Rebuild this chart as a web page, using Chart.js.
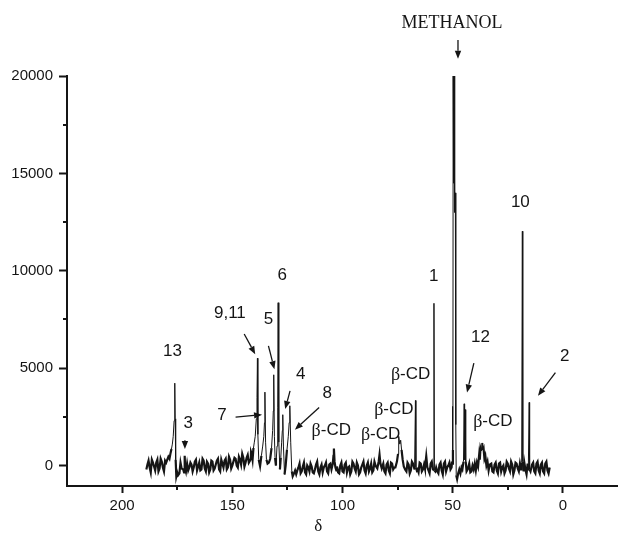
<!DOCTYPE html>
<html>
<head>
<meta charset="utf-8">
<script src="https://cdn.jsdelivr.net/npm/chart.js@4.4.0/dist/chart.umd.min.js"></script>
<style>
  html, body { margin: 0; padding: 0; background: #fff; }
</style>
</head>
<body>
<canvas id="spec" width="618" height="534"></canvas>
<script>
// 13C spectrum: baseline readings on whole ppm from 189 down to 6 (null where a signal takes over)
var noiseFrom = 189;
var noise = [
  -200, 250, -350, 150, -250, 300, -150, 200, -300, 150,      // 189-180
  450, null, null, null, null, -400, -150, null, null, -250,  // 179-170
  150, -300, 200, -250, 150, -200, 250, -300, 100, -200,      // 169-160
  200, -150, 250, -200, 300, -100, 350, -100, 300, 0,         // 159-150
  400, 0, 450, 50, 400, 150, 550, 250, null, null,            // 149-140
  null, null, null, null, null, null, null, null, null, null, // 139-130
  null, null, null, null, null, null, null, null, -450, -100, // 129-120
  -400, -50, -350, 0, -300, -50, -400, 50, -300, -100,        // 119-110
  -350, 0, -300, 50, null, null, null, -350, 0, -300,         // 109-100
  50, -350, -50, -300, 100, -300, 0, -350, 50, -250,          // 99-90
  0, -300, 100, -250, 0, null, null, null, -300, 50,          // 89-80
  -250, 150, -200, null, null, null, null, null, -300, 50,    // 79-70
  -250, 100, null, -200, 150, -300, 50, null, -250, 100,      // 69-60
  null, null, -300, 50, -250, 100, -300, 0, null, null,       // 59-50
  null, null, null, -100, null, null, null, -350, 0, null,    // 49-40
  null, null, null, null, null, null, null, -300, 50, -250,   // 39-30
  100, -300, 0, -250, 100, -300, 50, -250, 100, -300,         // 29-20
  null, null, -200, 100, null, 50, -300, 100, -250, 50,       // 19-10
  -300, 100, -250, -100                                       // 9-6
];
// and on the half ppm from 188.5 down to 6.5
var halfFrom = 188.5;
var noiseHalf = [
  50, -100, 300, -50, 150, -300, 350, -100, 250, 300,         // 188.5-179.5
  null, null, null, null, null, 150, null, null, 100, -100,   // 178.5-169.5
  50, -100, 300, -50, -250, 350, -150, 200, -350, 250,        // 168.5-159.5
  -250, 50, 350, -300, 100, 250, -200, 450, -150, 200,        // 158.5-149.5
  350, -100, 300, 600, -50, 400, 150, 700, null, null,        // 148.5-139.5
  null, null, null, null, null, null, null, null, null, null, // 138.5-129.5
  null, null, null, null, null, null, null, null, -250, 100,  // 128.5-119.5
  -300, 150, -450, -100, 100, -350, -200, 200, -450, 50,      // 118.5-109.5
  -100, 150, -400, 100, null, null, -50, -400, 150, -350,     // 108.5-99.5
  150, -100, -450, 200, -150, 150, -450, -100, 200, -400,     // 98.5-89.5
  150, -150, -350, 200, -100, null, null, 100, -400, 150,     // 88.5-79.5
  -400, 100, -100, null, null, null, null, null, 150, -400,   // 78.5-69.5
  200, null, null, -350, 100, -200, null, null, -400, 200,    // 68.5-59.5
  null, -100, -400, 150, -450, 200, -100, 150, null, null,    // 58.5-49.5
  null, null, -400, null, null, null, 100, -300, null, null,  // 48.5-39.5
  null, null, null, null, null, null, 100, -350, 150, -400,   // 38.5-29.5
  150, -100, -400, 200, -150, 200, -450, 150, -150, 100,      // 28.5-19.5
  null, 150, -450, null, null, 150, -400, 200, -400, 150,     // 18.5-9.5
  -400, 200, -400                                             // 8.5-6.5
];

// signals as [delta, intensity]
var sig13 = [[178.5, 350], [178.0, 650], [177.6, 850], [177.2, 1100], [176.8, 1500], [176.4, 2300],
  [176.1, 4230], [175.9, 2400], [175.7, 300], [175.4, -550], [175.0, -350], [174.6, -500]];
var sig3 = [[172.3, -200], [171.9, -350], [171.6, 500], [171.4, -100], [171.0, -300]];
var aromatic = [[141.6, 350], [141.2, 600], [140.8, 300], [140.4, 900], [140.0, 1200], [139.6, 1500],
  [139.1, 2400], [138.8, 3500], [138.6, 5510], [138.4, 1600], [138.0, 300], [137.4, -30],
  [136.8, 500], [136.2, 1000], [135.7, 1500], [135.4, 2200], [135.2, 3770], [134.9, 1200],
  [134.5, 300], [134.0, 100], [133.4, 150], [132.8, 350], [132.2, 900], [131.7, 1800],
  [131.4, 2800], [131.2, 4660], [130.9, 1500], [130.6, 400], [130.2, 0], [129.7, 1000],
  [129.4, 3000], [129.2, 8360], [128.9, 1200], [128.4, -200], [128.0, 400], [127.6, 1200],
  [127.3, 1800], [127.1, 2610], [126.8, 1000], [126.3, -460], [125.8, 0], [125.2, 800],
  [124.6, 1500], [124.2, 2200], [123.9, 3070], [123.5, 1200], [123.0, -300], [122.6, -550],
  [122.0, -400], [121.5, -250]];
var cd104 = [[105.0, -200], [104.4, 100], [104.1, 500], [103.9, 870], [103.6, 200], [103.2, -100], [102.8, -250]];
var cd83 = [[84.2, -150], [83.6, 200], [83.2, 560], [82.8, 100], [82.2, -150]];
var cd74 = [[76.0, -100], [75.3, 200], [74.8, 600], [74.6, 1000], [74.4, 1500], [74.0, 1100],
  [73.6, 1300], [73.2, 800], [72.7, 300], [72.2, -50], [71.6, -200]];
var cd67 = [[67.3, -200], [66.9, 3340], [66.7, -100], [66.3, -250]];
var bump62 = [[62.6, -150], [62.0, 480], [61.5, -100]];
var sig1 = [[58.9, -250], [58.5, 8330], [58.3, -250], [57.9, -300]];
var methanol = [[51.0, -200], [50.5, -100], [50.3, 200], [50.1, 3035], [50.0, 100], [49.9, 800],
  [49.8, 20000], [49.6, 14500], [49.4, 20000], [49.2, 14000], [49.0, 13000], [48.8, 14000],
  [48.6, 2100], [48.4, -500], [48.0, -700], [47.5, -400], [47.0, -200]];
var sig12 = [[45.6, -200], [45.1, 200], [44.8, 3170], [44.6, 300], [44.3, 2870], [44.1, 200], [43.7, -300], [43.2, -200]];
var cd37 = [[40.5, -200], [40.0, 100], [39.5, -250], [39.0, 150], [38.5, -50], [38.0, 550],
  [37.7, 300], [37.4, 900], [37.0, 750], [36.7, 1160], [36.4, 800], [36.0, 900], [35.6, 350],
  [35.2, 500], [34.7, 0], [34.2, 200], [33.7, -250], [33.2, 50]];
var sig10 = [[19.0, -200], [18.7, 150], [18.4, 12030], [18.2, 200], [17.8, -300]];
var sig2 = [[15.7, -250], [15.3, 3240], [15.1, -200], [14.7, -300]];

// assignments written over the peaks
var labelText = ['METHANOL', '13', '3', '9,11', '5', '6', '7', '4', '8',
  'β-CD', 'β-CD', 'β-CD', 'β-CD', '1', '12', 'β-CD', '10', '2'];
var labelAt = [[50.3, 22690], [177.1, 5850], [170.0, 2185], [151.1, 7815], [133.6, 7508], [127.3, 9775],
  [154.7, 2595], [118.9, 4693], [106.9, 3720], [105.1, 1808], [82.7, 1587], [76.7, 2866], [69.1, 4693],
  [58.6, 9724], [37.4, 6567], [31.8, 2268], [19.3, 13527], [-0.8, 5630]];
var arrowFrom = [[47.6, 21850], [171.5, 1300], [144.6, 6756], [133.6, 6142], [123.8, 3838],
  [148.5, 2490], [110.6, 2985], [40.4, 5256], [3.4, 4775]];
var arrowTo = [[47.6, 20880], [171.5, 850], [139.6, 5717], [130.9, 4949], [126.0, 2902],
  [136.5, 2610], [121.6, 1842], [43.5, 3752], [11.3, 3583]];

var xTicks = [200, 150, 100, 50, 0];
var yTicks = [0, 5000, 10000, 15000, 20000];
var xMinorTicks = [175, 125, 75, 25];
var yMinorTicks = [2500, 7500, 12500, 17500];

var ink = '#151515';
var sans = 'Liberation Sans, Arial, sans-serif';
var serif = 'Liberation Serif, Times New Roman, serif';

// merge baseline and signals into one trace, high ppm first
var trace = [];
noise.forEach(function (v, i) {
  if (v !== null) trace.push({ x: noiseFrom - i, y: v });
});
noiseHalf.forEach(function (v, i) {
  if (v !== null) trace.push({ x: halfFrom - i, y: v });
});
[sig13, sig3, aromatic, cd104, cd83, cd74, cd67, bump62, sig1, methanol, sig12, cd37, sig10, sig2].forEach(function (g) {
  g.forEach(function (p) { trace.push({ x: p[0], y: p[1] }); });
});
trace.sort(function (a, b) { return b.x - a.x; });

function arrow(ctx, x1, y1, x2, y2, len, half) {
  var a = Math.atan2(y2 - y1, x2 - x1);
  var bx = x2 - len * Math.cos(a), by = y2 - len * Math.sin(a);
  ctx.beginPath();
  ctx.moveTo(x1, y1);
  ctx.lineTo(bx, by);
  ctx.stroke();
  ctx.beginPath();
  ctx.moveTo(x2, y2);
  ctx.lineTo(bx + half * Math.sin(a), by - half * Math.cos(a));
  ctx.lineTo(bx - half * Math.sin(a), by + half * Math.cos(a));
  ctx.closePath();
  ctx.fill();
}

var markup = {
  id: 'markup',
  afterDraw: function (chart) {
    var ctx = chart.ctx, x = chart.scales.x, y = chart.scales.y, area = chart.chartArea;
    ctx.save();
    ctx.strokeStyle = ink;
    ctx.fillStyle = ink;

    // minor ticks
    ctx.lineWidth = 2;
    xMinorTicks.forEach(function (v) {
      var px = Math.round(x.getPixelForValue(v));
      ctx.beginPath(); ctx.moveTo(px, area.bottom); ctx.lineTo(px, area.bottom + 4); ctx.stroke();
    });
    yMinorTicks.forEach(function (v) {
      var py = Math.round(y.getPixelForValue(v));
      ctx.beginPath(); ctx.moveTo(area.left - 4, py); ctx.lineTo(area.left, py); ctx.stroke();
    });

    // arrows
    ctx.lineWidth = 1.3;
    arrowFrom.forEach(function (f, i) {
      var t = arrowTo[i];
      arrow(ctx, x.getPixelForValue(f[0]), y.getPixelForValue(f[1]),
        x.getPixelForValue(t[0]), y.getPixelForValue(t[1]), 8, 3.2);
    });

    // labels
    ctx.textBaseline = 'middle';
    labelText.forEach(function (s, i) {
      var px = x.getPixelForValue(labelAt[i][0]), py = y.getPixelForValue(labelAt[i][1]);
      if (s === 'METHANOL') {
        ctx.font = '18px ' + serif;
        ctx.textAlign = 'center';
        ctx.fillText(s, px, py);
      } else if (s.charAt(0) === 'β') {
        ctx.font = '18px ' + serif;
        var wb = ctx.measureText('β').width;
        ctx.font = '17px ' + sans;
        var wr = ctx.measureText(s.slice(1)).width;
        var left = px - (wb + wr) / 2;
        ctx.textAlign = 'left';
        ctx.font = '18px ' + serif;
        ctx.fillText('β', left, py + 1);
        ctx.font = '17px ' + sans;
        ctx.fillText(s.slice(1), left + wb, py);
      } else {
        ctx.font = '17px ' + sans;
        ctx.textAlign = 'center';
        ctx.fillText(s, px, py);
      }
    });

    // axis title
    ctx.font = '17px ' + serif;
    ctx.textAlign = 'center';
    ctx.fillText('δ', area.left + (area.right - area.left) * 0.456, 527);
    ctx.restore();
  }
};

new Chart(document.getElementById('spec'), {
  type: 'scatter',
  data: {
    datasets: [{
      data: trace,
      showLine: true,
      borderColor: ink,
      borderWidth: 1,
      pointRadius: 0,
      tension: 0,
      // the noisy baseline reads as a thick band, the peaks as hairlines
      segment: {
        borderWidth: function (c) {
          return Math.abs(c.p0.parsed.y) < 1000 && Math.abs(c.p1.parsed.y) < 1000 ? 2.2 : 1;
        }
      }
    }]
  },
  options: {
    responsive: false,
    animation: false,
    devicePixelRatio: 1,
    layout: { padding: { top: 76, right: 0, left: 0, bottom: 0 } },
    plugins: { legend: { display: false }, tooltip: { enabled: false } },
    scales: {
      x: {
        type: 'linear',
        reverse: true,
        min: -25,
        max: 225,
        border: { display: true, color: ink, width: 2 },
        grid: { display: true, drawOnChartArea: false, drawTicks: true, tickLength: 7, tickWidth: 2, tickColor: ink },
        ticks: { maxRotation: 0, padding: 4, color: ink, font: { family: sans, size: 15 },
          callback: function (v) { return String(v); } },
        afterBuildTicks: function (s) { s.ticks = xTicks.map(function (v) { return { value: v }; }); },
        afterFit: function (s) { s.height = 48; }
      },
      y: {
        min: -1050,
        max: 20000,
        border: { display: true, color: ink, width: 2 },
        grid: { display: true, drawOnChartArea: false, drawTicks: true, tickLength: 8, tickWidth: 2, tickColor: ink },
        ticks: { padding: 6, color: ink, font: { family: sans, size: 15 },
          callback: function (v) { return String(v); } },
        afterBuildTicks: function (s) { s.ticks = yTicks.map(function (v) { return { value: v }; }); },
        afterFit: function (s) { s.width = 67; }
      }
    }
  },
  plugins: [markup]
});
</script>
</body>
</html>
